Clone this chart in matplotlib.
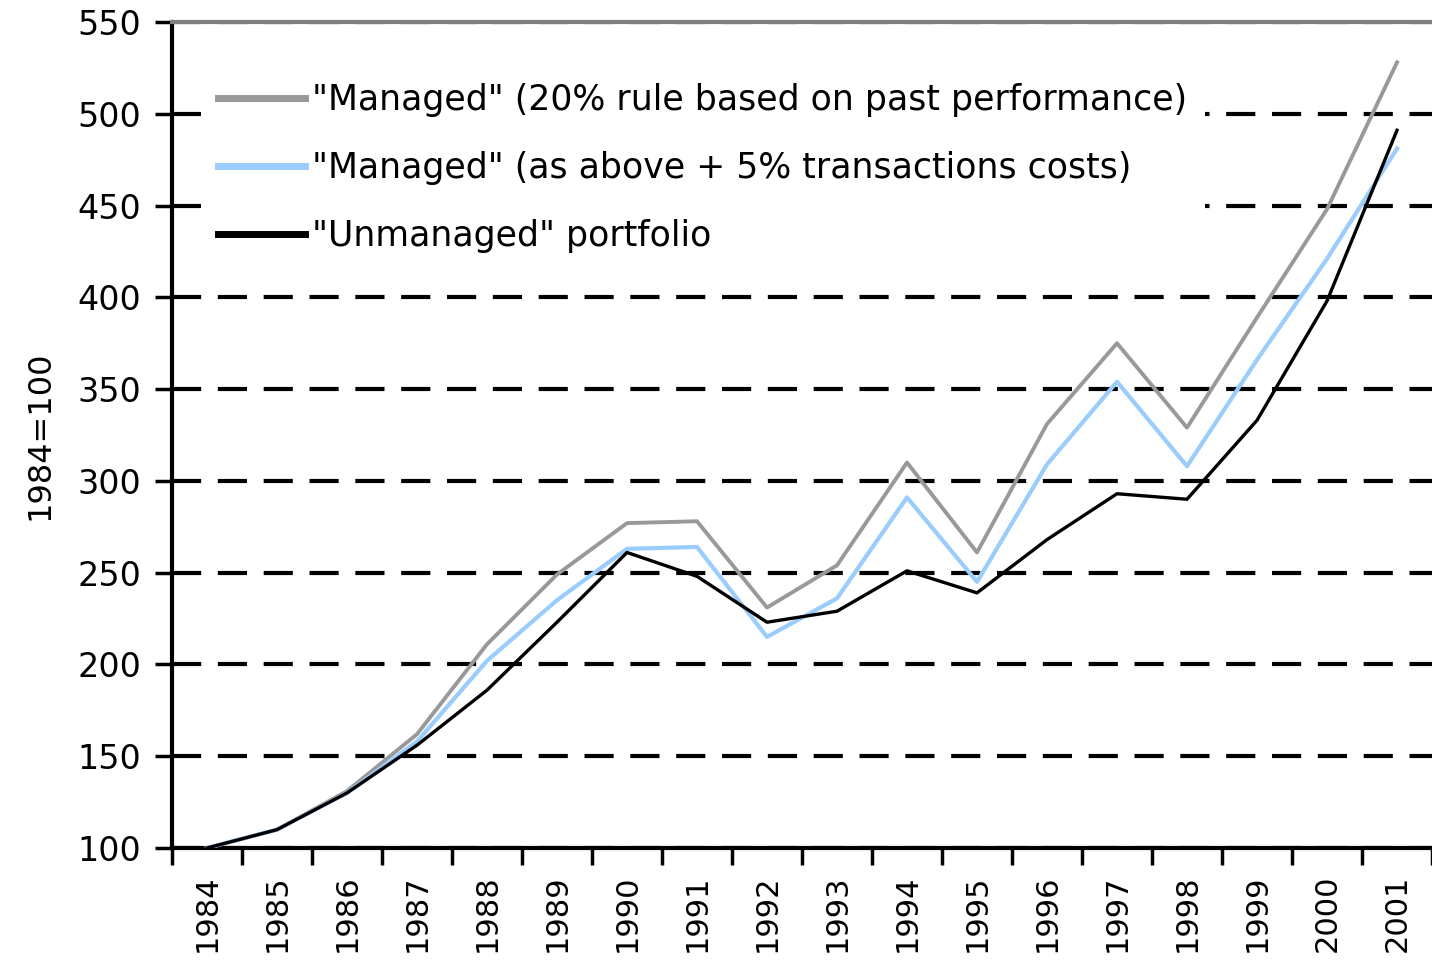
import matplotlib
matplotlib.use("Agg")
import matplotlib.pyplot as plt
import numpy as np

years = [str(y) for y in range(1984, 2002)]
managed = [100, 110, 131, 162, 211, 249, 277, 278, 231, 254, 310, 261, 331, 375, 329, 389, 448, 528]
managed_tc = [100, 110, 130, 158, 202, 235, 263, 264, 215, 236, 291, 245, 309, 354, 308, 366, 421, 481]
unmanaged = [100, 110, 130, 156, 186, 223, 261, 248, 223, 229, 251, 239, 268, 293, 290, 333, 398, 491]
labels = ['"Managed" (20% rule based on past performance)',
          '"Managed" (as above + 5% transactions costs)',
          '"Unmanaged" portfolio']

plt.rcParams['font.family'] = ['DejaVu Sans']
fig = plt.figure(figsize=(14.32, 9.61), dpi=100)
ax = fig.add_axes([172/1432, 1-848/961, 1-172/1432, (848-22)/961])

x = np.arange(len(years))
ax.plot(x, managed, color='#999999', lw=2.8, label=labels[0], zorder=3)
ax.plot(x, managed_tc, color='#99ccff', lw=3.0, label=labels[1], zorder=3)
ax.plot(x, unmanaged, color='black', lw=2.4, label=labels[2], zorder=4)

ax.set_xlim(-0.5, len(years) - 0.5)
ax.set_ylim(100, 550)
ax.set_yticks(np.arange(100, 551, 50))
ax.set_xticks(x)
ax.set_xticklabels(years, rotation=90, fontsize=22)
ax.set_xticks(np.arange(-0.5, len(years), 1), minor=True)
ax.tick_params(axis='x', which='major', length=0, pad=19)
ax.tick_params(axis='x', which='minor', length=12, width=2.5, direction='out')
ax.tick_params(axis='y', length=12, width=2.5, direction='out', pad=10, labelsize=24)

ax.yaxis.grid(True, linestyle=(0, (7, 4)), color='black', lw=3.0)
ax.set_axisbelow(True)

for s in ['left', 'bottom']:
    ax.spines[s].set_linewidth(3)
    ax.spines[s].set_color('black')
ax.spines['top'].set_color('#808080')
ax.spines['top'].set_linewidth(3)
ax.spines['right'].set_visible(False)

ax.set_ylabel('1984=100', fontsize=23, labelpad=16)

leg = ax.legend(loc='upper left', bbox_to_anchor=(0.023, 0.947), fontsize=25,
                frameon=True, framealpha=1, facecolor='white', edgecolor='none',
                handlelength=2.5, handletextpad=0.2, labelspacing=0.98,
                borderpad=0.5, borderaxespad=0.0, fancybox=False)
leg.set_zorder(5)
for h in leg.get_lines():
    h.set_linewidth(5)

fig.savefig('out.png', dpi=100)
